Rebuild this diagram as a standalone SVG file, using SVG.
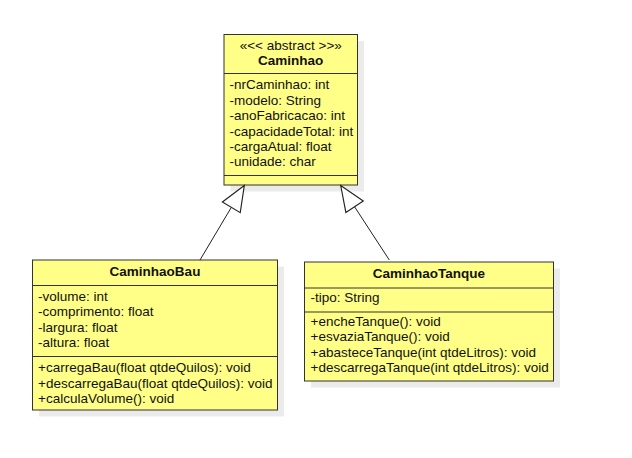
<svg xmlns="http://www.w3.org/2000/svg" width="632" height="458" viewBox="0 0 632 458">
<style>
text{font-family:"Liberation Sans",Arial,sans-serif;font-size:13.5px;fill:#111}
.t{font-weight:bold;text-anchor:middle}
.c{text-anchor:middle}
.box{fill:#ffff88;stroke:#333;stroke-width:1}
.sh{fill:#ebebeb}
.div{stroke:#333;stroke-width:1}
.edge{stroke:#222;stroke-width:1;fill:none;marker-end:url(#tri)}
</style>
<defs>
<marker id="tri" markerUnits="userSpaceOnUse" markerWidth="30" markerHeight="30" viewBox="-24 -12 26 24" refX="0" refY="0" orient="auto">
<path d="M0,0 L-22,-9 L-22,9 Z" fill="#fff" stroke="#222" stroke-width="1"/>
</marker>
</defs>
<rect width="632" height="458" fill="#fff"/>
<g id="Caminhao">
<rect class="sh" x="230.5" y="41" width="133.5" height="150.5"/>
<rect class="box" x="224" y="34.5" width="133.5" height="150.5"/>
<line class="div" x1="224" y1="73.5" x2="357.5" y2="73.5"/>
<line class="div" x1="224" y1="175.5" x2="357.5" y2="175.5"/>
<text class="c" x="290.75" y="50.3">«&lt;&lt; abstract &gt;&gt;»</text>
<text class="t" x="290.75" y="64.7">Caminhao</text>
<text x="229.5" y="89.3">-nrCaminhao: int</text>
<text x="229.5" y="104.7">-modelo: String</text>
<text x="229.5" y="120.1">-anoFabricacao: int</text>
<text x="229.5" y="135.5">-capacidadeTotal: int</text>
<text x="229.5" y="150.9">-cargaAtual: float</text>
<text x="229.5" y="166.3">-unidade: char</text>
</g>
<g id="CaminhaoBau">
<rect class="sh" x="39" y="266.5" width="245" height="150"/>
<rect class="box" x="32.5" y="260" width="245" height="150"/>
<line class="div" x1="32.5" y1="285.5" x2="277.5" y2="285.5"/>
<line class="div" x1="32.5" y1="356.5" x2="277.5" y2="356.5"/>
<text class="t" x="155" y="275.5">CaminhaoBau</text>
<text x="38" y="300.5">-volume: int</text>
<text x="38" y="316">-comprimento: float</text>
<text x="38" y="331.5">-largura: float</text>
<text x="38" y="347">-altura: float</text>
<text x="38" y="372">+carregaBau(float qtdeQuilos): void</text>
<text x="38" y="387.5">+descarregaBau(float qtdeQuilos): void</text>
<text x="38" y="403">+calculaVolume(): void</text>
</g>
<g id="CaminhaoTanque">
<rect class="sh" x="311" y="268.5" width="249" height="119"/>
<rect class="box" x="304.5" y="262" width="249" height="119"/>
<line class="div" x1="304.5" y1="288" x2="553.5" y2="288"/>
<line class="div" x1="304.5" y1="312" x2="553.5" y2="312"/>
<text class="t" x="429" y="278">CaminhaoTanque</text>
<text x="310.5" y="302">-tipo: String</text>
<text x="310.5" y="325.5">+encheTanque(): void</text>
<text x="310.5" y="341">+esvaziaTanque(): void</text>
<text x="310.5" y="356.5">+abasteceTanque(int qtdeLitros): void</text>
<text x="310.5" y="372">+descarregaTanque(int qtdeLitros): void</text>
</g>
<g id="connectors">
<path class="edge" d="M200,260 L244.3,185.5"/>
<path class="edge" d="M389.3,260 L340.7,185.5"/>
</g>
</svg>
